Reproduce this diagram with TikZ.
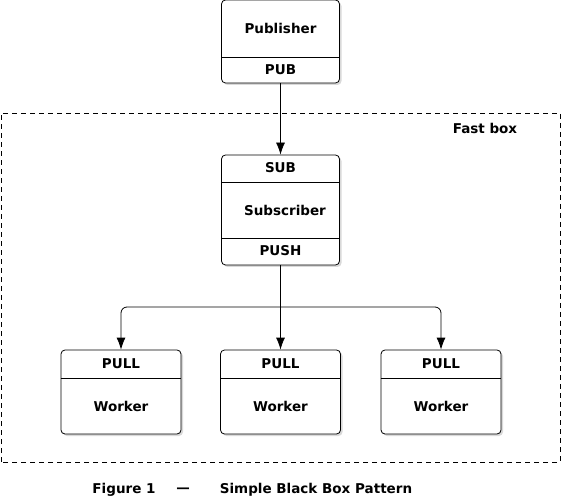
\documentclass[tikz,border=0pt]{standalone}
\usepackage{fontspec}
\setmainfont{DejaVu Sans}
\usetikzlibrary{arrows.meta,shadows}

\begin{document}
\begin{tikzpicture}[x=1pt, y=1pt,
    box/.style={draw, rounded corners=4pt, fill=white, line width=0.8pt,
      inner sep=0pt, minimum width=118pt,
      drop shadow={shadow xshift=2pt, shadow yshift=-2pt, opacity=0.3}},
    lbl/.style={font=\bfseries\fontsize{13.5}{16}\selectfont, inner sep=1pt},
    conn/.style={line width=0.8pt, -{Latex[length=12pt, width=9pt]}}]
    \path [use as bounding box]
      (0, 0) rectangle (561, 498);

    \newcommand{\divline}[2]{
      \draw[line width=0.8pt] (#1.west |- 0,#2) -- (#1.east |- 0,#2);
    }

    \draw[line width=0.8pt, dash pattern=on 5pt off 4pt]
      (1, 36) rectangle (560, 385);
    \node[lbl] (fast) at (485, 370) {Fast box};

    \node[box, minimum height=83pt] (pub) at (280.5, 456.5) {};
    \divline{pub}{441}
    \node[lbl] (publbl) at (280.5, 470) {Publisher};
    \node[lbl] (pubsock) at (280.5, 428) {PUB};

    \node[box, minimum height=110pt] (sub) at (280.5, 288) {};
    \divline{sub}{316}
    \divline{sub}{260}
    \node[lbl] (subsock) at (280.5, 330) {SUB};
    \node[lbl] (sublbl) at (285, 288) {Subscriber};
    \node[lbl] (pushsock) at (280.5, 247) {PUSH};

    \foreach \wx/\wn in { 121/w1, 280.5/w2, 441/w3 } {
      \node[box, minimum width=120pt, minimum height=84pt]
        (\wn) at (\wx, 106) {};
      \divline{\wn}{120}
      \node[lbl] (\wn pull) at (\wx, 134) {PULL};
      \node[lbl] (\wn lbl) at (\wx, 92) {Worker};
    }

    \draw[conn] (pub.south) -- (sub.north);
    \coordinate (split) at (280.5, 191);
    \draw[line width=0.8pt] (sub.south) -- (split);
    \draw[conn] (split) -- (w2.north);
    \foreach \wn in { w1, w3 } {
      \draw[conn, rounded corners=6pt] (split) -| (\wn.north);
    }

    \node[lbl] (fig) at (124, 8) {Figure 1};
    \node[lbl] (figdash) at (183, 8) {—};
    \node[lbl] (figtitle) at (316, 8) {Simple Black Box Pattern};
  \end{tikzpicture}
\end{document}
